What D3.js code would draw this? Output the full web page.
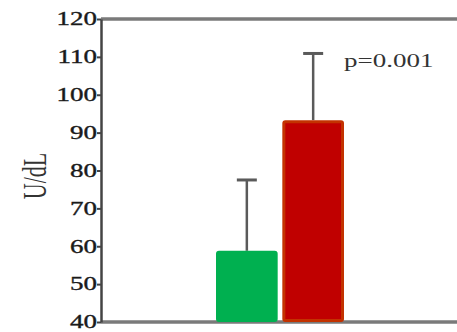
<!DOCTYPE html>
<html>
<head>
<meta charset="utf-8">
<script src="https://cdn.jsdelivr.net/npm/d3@7"></script>
<style>
  html, body { margin: 0; padding: 0; background: #ffffff; }
  svg { display: block; }
</style>
</head>
<body>
<div id="graph"></div>
<script>
// The data...
var groups    = [ 'Group 1', 'Group 2' ];
var means     = [ 58.8, 93.3 ];
var sdUpper   = [ 18.7, 17.6 ];
var yTicks    = [ 40, 50, 60, 70, 80, 90, 100, 110, 120 ];
var yTitle    = 'U/dL';
var pText     = 'p=0.001';

var barFill   = [ '#00b050', '#c00000' ];
var barStroke = [ '#00b050', '#c33200' ];

var width  = 457;
var height = 332;

var margin = { top: 19, right: 0, bottom: 10, left: 101 };

// text in the picture is stretched sideways
var stretch = 1.5;
var fontFamily = '"Liberation Serif", "Times New Roman", serif';

var svg = d3.select ('#graph').append ('svg')
            .attr ('width', width)
            .attr ('height', height);

var yScale = d3.scaleLinear ()
               .domain ( [ 40, 120 ] )
               .range ( [ height - margin.bottom, margin.top ] );

var xScale = d3.scaleBand ()
               .domain (groups)
               .range ( [ 216, 344 ] )
               .paddingInner (0.07);

// top and bottom frame lines
[ 120, 40 ].forEach (function (v)
{
    svg.append ('line')
       .attr ('x1', margin.left)
       .attr ('x2', width)
       .attr ('y1', yScale(v))
       .attr ('y2', yScale(v))
       .attr ('stroke', '#7a7a7a')
       .attr ('stroke-width', 3.5);
});

// y axis
var yAxis = d3.axisLeft (yScale)
              .tickValues (yTicks)
              .tickSize (4)
              .tickSizeOuter (0)
              .tickPadding (1);

var gy = svg.append ('g')
            .attr ('transform', 'translate(' + margin.left + ',0)')
            .call (yAxis);

gy.select ('.domain').attr ('stroke', '#444').attr ('stroke-width', 2.5);
gy.selectAll ('.tick line').attr ('stroke', '#444').attr ('stroke-width', 2);
gy.selectAll ('.tick text')
  .attr ('font-family', fontFamily)
  .attr ('font-size', '18px')
  .attr ('fill', '#1a1a1a')
  .attr ('stroke', '#1a1a1a')
  .attr ('stroke-width', 0.35)
  .attr ('x', -4 / stretch)
  .attr ('transform', 'scale(' + stretch + ',1)');

// y axis title
svg.append ('text')
   .attr ('transform', 'translate(35,176) scale(' + stretch + ',1) rotate(-90)')
   .attr ('text-anchor', 'middle')
   .attr ('dominant-baseline', 'central')
   .attr ('font-family', fontFamily)
   .attr ('font-size', '22px')
   .attr ('fill', '#333')
   .text (yTitle);

// error bars (upper only)
var capWidth = 20;
groups.forEach (function (g, i)
{
    var cx  = xScale(g) + xScale.bandwidth() / 2;
    var top = yScale (means[i] + sdUpper[i]);

    svg.append ('line')
       .attr ('x1', cx).attr ('x2', cx)
       .attr ('y1', yScale(means[i])).attr ('y2', top)
       .attr ('stroke', '#5a5a5a')
       .attr ('stroke-width', 2.5);

    svg.append ('line')
       .attr ('x1', cx - capWidth / 2).attr ('x2', cx + capWidth / 2)
       .attr ('y1', top).attr ('y2', top)
       .attr ('stroke', '#5a5a5a')
       .attr ('stroke-width', 3);
});

// bars
svg.selectAll ('rect.bar')
   .data (means)
   .enter ()
   .append ('rect')
   .attr ('class', 'bar')
   .attr ('x',      function (d, i) { return xScale(groups[i]) + 1.5; })
   .attr ('y',      function (d) { return yScale(d) + 1.5; })
   .attr ('width',  xScale.bandwidth() - 3)
   .attr ('height', function (d) { return yScale(40) - yScale(d) - 3; })
   .attr ('rx', 1.5)
   .attr ('fill',   function (d, i) { return barFill[i]; })
   .attr ('stroke', function (d, i) { return barStroke[i]; })
   .attr ('stroke-width', 3);

// p value
svg.append ('text')
   .attr ('transform', 'scale(' + stretch + ',1)')
   .attr ('x', 344 / stretch)
   .attr ('y', 67)
   .attr ('font-family', fontFamily)
   .attr ('font-size', '18px')
   .attr ('fill', '#333')
   .text (pText);
</script>
</body>
</html>
